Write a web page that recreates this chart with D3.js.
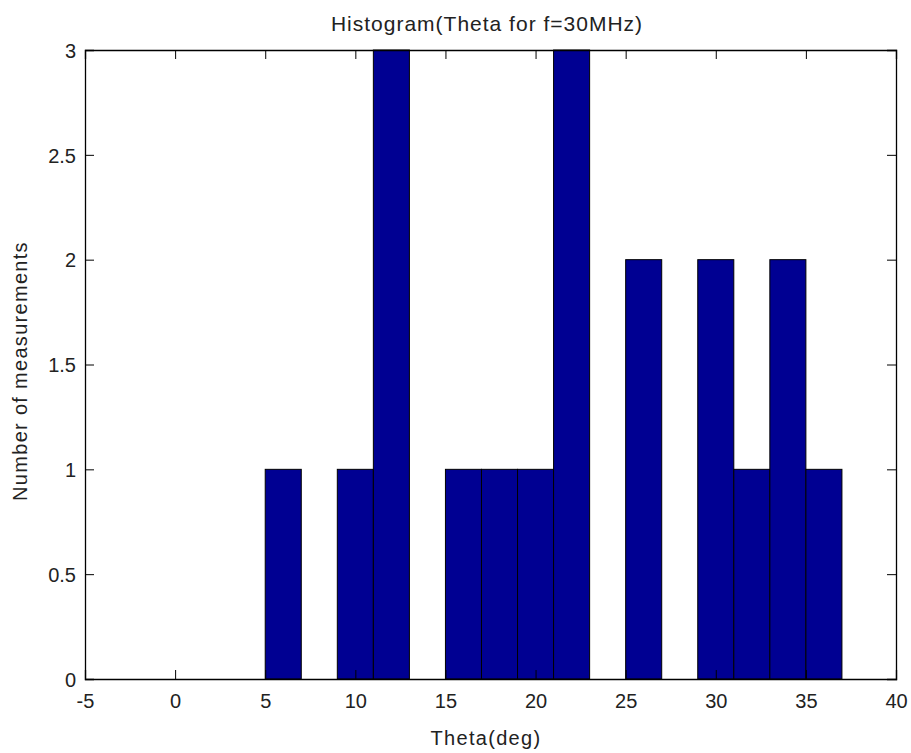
<!DOCTYPE html>
<html>
<head>
<meta charset="utf-8">
<script src="https://cdn.jsdelivr.net/npm/d3@7"></script>
<style>
  body { margin: 0; background: #fff; }
  text { font-family: "Liberation Sans", Arial, sans-serif; fill: #222; }
</style>
</head>
<body>
<div class="chart"></div>
<script>
// bin centres (deg) and counts
const binCenters = [6, 10, 12, 16, 18, 20, 22, 26, 30, 32, 34, 36];
const counts = [1, 1, 3, 1, 1, 1, 3, 2, 2, 1, 2, 1];
const binWidth = 2;
const xTicks = [-5, 0, 5, 10, 15, 20, 25, 30, 35, 40];
const yTicks = [0, 0.5, 1, 1.5, 2, 2.5, 3];

const W = 911, H = 753;
const m = { left: 85, right: 15, top: 50, bottom: 74 };
const font = '"Liberation Sans", Arial, sans-serif';

const svg = d3.select('.chart')
  .append('svg')
  .attr('width', W)
  .attr('height', H);

const x = d3.scaleLinear().domain([-5, 40]).range([m.left, W - m.right]);
const y = d3.scaleLinear().domain([0, 3]).range([H - m.bottom, m.top]);

// bars
svg.append('g')
  .selectAll('rect')
  .data(binCenters.map((c, i) => ({ c, n: counts[i] })))
  .enter()
  .append('rect')
  .attr('x', d => x(d.c - binWidth / 2))
  .attr('width', d => x(d.c + binWidth / 2) - x(d.c - binWidth / 2))
  .attr('y', d => y(d.n))
  .attr('height', d => y(0) - y(d.n))
  .attr('fill', '#000092')
  .attr('stroke', '#000')
  .attr('stroke-width', 1);

const tick = 9;
// bottom axis, ticks inward like matlab
const gx = svg.append('g').attr('transform', `translate(0,${y(0)})`)
  .call(d3.axisBottom(x).tickValues(xTicks).tickSize(-tick).tickFormat(d => String(d)));
gx.selectAll('.tick text').attr('y', 29).attr('dy', 0);
// top axis
svg.append('g').attr('transform', `translate(0,${y(3)})`)
  .call(d3.axisTop(x).tickValues(xTicks).tickSize(-tick).tickFormat(''));
// left axis
const gy = svg.append('g').attr('transform', `translate(${x(-5)},0)`)
  .call(d3.axisLeft(y).tickValues(yTicks).tickSize(-tick).tickFormat(d => String(d)));
gy.selectAll('.tick text').attr('x', -9).attr('dy', '0.36em');
// right axis
svg.append('g').attr('transform', `translate(${x(40)},0)`)
  .call(d3.axisRight(y).tickValues(yTicks).tickSize(-tick).tickFormat(''));

svg.selectAll('.domain').attr('stroke', '#000').attr('stroke-width', 1.3);
svg.selectAll('.tick line').attr('stroke', '#000');
svg.selectAll('.tick text')
  .attr('font-size', 20)
  .attr('font-family', font)
  .attr('fill', '#222');

svg.append('text')
  .attr('x', 487).attr('y', 31)
  .attr('text-anchor', 'middle')
  .attr('font-size', 21)
  .attr('letter-spacing', 1)
  .text('Histogram(Theta for f=30MHz)');

svg.append('text')
  .attr('x', 486).attr('y', 745)
  .attr('text-anchor', 'middle')
  .attr('font-size', 20)
  .attr('letter-spacing', 1.3)
  .text('Theta(deg)');

svg.append('text')
  .attr('transform', `translate(27,371) rotate(-90)`)
  .attr('text-anchor', 'middle')
  .attr('font-size', 20)
  .attr('letter-spacing', 1.3)
  .text('Number of measurements');
</script>
</body>
</html>
